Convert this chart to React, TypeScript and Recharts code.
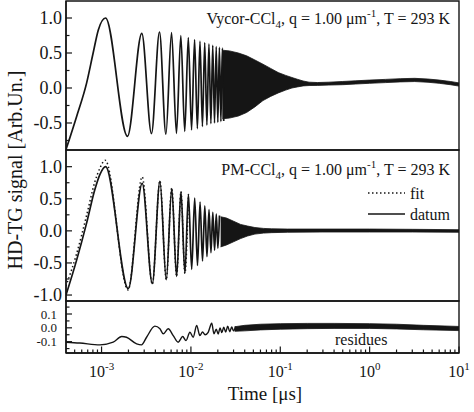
import React from 'react';
import { ComposedChart, Line, Area, XAxis, YAxis, ReferenceArea } from 'recharts';

const FONT = '"Liberation Serif", "DejaVu Serif", serif';
const INK = '#151515';
const WIDTH = 474;
const HEIGHT = 412;
const PLOT_LEFT = 66;
const PLOT_RIGHT = 459;

// shared time axis in μs (log scale)
const X_DOMAIN: [number, number] = [4e-4, 10];
const decadeTicks = [1e-3, 1e-2, 1e-1, 1, 10];
const decadeExponents = ['-3', '-2', '-1', '0', '1'];
const minorTicks = [
  5e-4, 6e-4, 7e-4, 8e-4, 9e-4,
  2e-3, 3e-3, 4e-3, 5e-3, 6e-3, 7e-3, 8e-3, 9e-3,
  2e-2, 3e-2, 4e-2, 5e-2, 6e-2, 7e-2, 8e-2, 9e-2,
  0.2, 0.3, 0.4, 0.5, 0.6, 0.7, 0.8, 0.9,
  2, 3, 4, 5, 6, 7, 8, 9,
];
const timeTicks = [...minorTicks, ...decadeTicks].sort((a, b) => a - b);

// Vycor-CCl4: resolved oscillation (extrema) then the unresolved band
const vycorTime = [
  4.0e-4, 5.25e-4, 6.8e-4, 8.05e-4, 9.2e-4, 1.11e-3, 1.95e-3, 2.82e-3, 3.62e-3, 4.45e-3,
  5.25e-3, 6.07e-3, 6.89e-3, 7.71e-3, 8.53e-3, 9.35e-3, 1.017e-2, 1.099e-2, 1.181e-2, 1.263e-2,
  1.345e-2, 1.427e-2, 1.509e-2, 1.591e-2, 1.673e-2, 1.755e-2, 1.837e-2, 1.919e-2, 2.001e-2, 2.083e-2,
  2.165e-2, 2.247e-2, 2.329e-2,
];
const vycorSignal = [
  -0.88, -0.41, 0.07, 0.5, 0.83, 1.0, -0.69, 0.78, -0.65, 0.8,
  -0.66, 0.79, -0.65, 0.75, -0.62, 0.72, -0.6, 0.69, -0.58, 0.67,
  -0.55, 0.65, -0.53, 0.63, -0.51, 0.61, -0.5, 0.59, -0.49, 0.58,
  -0.48, 0.57, -0.47,
];
const vycorBandTime = [
  0.0225, 0.027, 0.034, 0.042, 0.052, 0.064, 0.078, 0.095, 0.115, 0.135,
  0.155, 0.18, 0.21, 0.26, 0.35, 0.5, 0.7, 1.0, 1.5, 2.2,
  3.2, 4.5, 6.0, 8.0, 10,
];
const vycorBandLow = [
  -0.44, -0.43, -0.4, -0.35, -0.27, -0.18, -0.12, -0.07, -0.03, 0.0,
  0.015, 0.03, 0.035, 0.037, 0.042, 0.047, 0.057, 0.067, 0.077, 0.087,
  0.092, 0.082, 0.067, 0.047, 0.027,
];
const vycorBandHigh = [
  0.54, 0.53, 0.5, 0.46, 0.4, 0.34, 0.28, 0.22, 0.18, 0.15,
  0.125, 0.1, 0.083, 0.078, 0.083, 0.093, 0.103, 0.113, 0.123, 0.133,
  0.138, 0.128, 0.113, 0.093, 0.073,
];

// PM-CCl4: measured datum, fit and the dense band
const pmTime = [
  4.0e-4, 5.25e-4, 6.8e-4, 8.4e-4, 9.6e-4, 1.11e-3, 1.99e-3, 2.85e-3, 3.7e-3, 4.5e-3,
  5.3e-3, 6.1e-3, 6.92e-3, 7.74e-3, 8.56e-3, 9.38e-3, 1.02e-2, 1.102e-2, 1.184e-2, 1.266e-2,
  1.348e-2, 1.43e-2, 1.512e-2, 1.594e-2, 1.676e-2, 1.758e-2, 1.84e-2, 1.922e-2, 2.004e-2, 2.086e-2,
];
const pmDatum = [
  -1.0, -0.46, 0.12, 0.64, 0.88, 1.0, -0.9, 0.74, -0.82, 0.77,
  -0.76, 0.66, -0.71, 0.61, -0.66, 0.57, -0.6, 0.51, -0.54, 0.45,
  -0.47, 0.39, -0.4, 0.33, -0.34, 0.29, -0.3, 0.26, -0.27, 0.24,
];
const pmFitTime = [
  4.0e-4, 5.25e-4, 6.8e-4, 8.4e-4, 9.6e-4, 1.1e-3, 1.98e-3, 2.85e-3, 3.7e-3, 4.5e-3,
  5.3e-3, 6.1e-3, 6.92e-3, 7.74e-3, 8.56e-3, 9.38e-3,
];
const pmFit = [
  -0.86, -0.36, 0.24, 0.76, 0.98, 1.1, -0.92, 0.84, -0.83, 0.78,
  -0.76, 0.67, -0.71, 0.61, -0.66, 0.57,
];
const pmBandTime = [0.0215, 0.025, 0.03, 0.036, 0.043, 0.052, 0.065, 0.08, 0.12, 0.3, 1, 3, 10];
const pmBandLow = [-0.25, -0.22, -0.17, -0.12, -0.08, -0.05, -0.035, -0.028, -0.022, -0.018, -0.018, -0.018, -0.022];
const pmBandHigh = [0.22, 0.2, 0.15, 0.1, 0.075, 0.052, 0.038, 0.032, 0.028, 0.028, 0.028, 0.024, 0.018];

// residues of the PM-CCl4 fit
const resTime = [
  4.0e-4, 5.7e-4, 9.6e-4, 1.35e-3, 1.68e-3, 1.9e-3, 2.47e-3, 2.8e-3, 3.19e-3, 3.95e-3,
  4.5e-3, 4.9e-3, 5.57e-3, 6.34e-3, 7.2e-3, 8.09e-3, 8.81e-3, 9.75e-3, 1.06e-2, 1.16e-2,
  1.26e-2, 1.35e-2, 1.44e-2, 1.56e-2, 1.71e-2, 1.81e-2, 1.92e-2, 2.02e-2, 2.12e-2, 2.22e-2,
  2.33e-2, 2.45e-2, 2.58e-2, 2.72e-2, 2.86e-2, 3.0e-2, 3.15e-2,
];
const resValue = [
  -0.104, -0.11, -0.123, -0.104, -0.063, -0.068, -0.116, -0.123, -0.068, 0.012,
  -0.007, -0.043, -0.007, -0.056, -0.104, -0.063, -0.092, -0.032, -0.068, 0.017,
  -0.056, -0.03, -0.05, -0.032, 0.033, -0.043, -0.01, -0.045, 0.0, -0.035,
  0.005, -0.03, 0.012, -0.028, 0.006, -0.022, 0.01,
];
const resBandTime = [0.031, 0.04, 0.06, 0.1, 0.2, 0.4, 1, 2, 4, 10];
const resBandLow = [-0.025, -0.022, -0.015, -0.01, -0.006, -0.004, -0.004, -0.008, -0.014, -0.02];
const resBandHigh = [0.008, 0.018, 0.026, 0.03, 0.032, 0.032, 0.03, 0.026, 0.018, 0.01];

// y axes
const signalDomain1: [number, number] = [-0.886, 1.243];
const signalTicks1 = [-0.75, -0.5, -0.25, 0, 0.25, 0.5, 0.75, 1.0];
const signalLabels1 = [-0.5, 0, 0.5, 1.0];
const signalDomain2: [number, number] = [-1.093, 1.26];
const signalTicks2 = [-1.0, -0.75, -0.5, -0.25, 0, 0.25, 0.5, 0.75, 1.0];
const signalLabels2 = [-1.0, -0.5, 0, 0.5, 1.0];
const resDomain: [number, number] = [-0.182, 0.194];
const resTicks = [-0.15, -0.1, -0.05, 0, 0.05, 0.1, 0.15];
const resLabels = [-0.1, 0, 0.1];

type Row = { t: number; v?: number; fit?: number; band?: [number, number] };

const lineRows = (t: number[], key: 'v' | 'fit', values: number[]): Row[] =>
  t.map((time, i) => ({ t: time, [key]: values[i] }));
const bandRows = (t: number[], lo: number[], hi: number[]): Row[] =>
  t.map((time, i) => ({ t: time, band: [lo[i], hi[i]] as [number, number] }));
const byTime = (a: Row, b: Row) => a.t - b.t;

const vycorRows = [
  ...lineRows(vycorTime, 'v', vycorSignal),
  ...bandRows(vycorBandTime, vycorBandLow, vycorBandHigh),
].sort(byTime);
const pmRows = [
  ...lineRows(pmTime, 'v', pmDatum),
  ...lineRows(pmFitTime, 'fit', pmFit),
  ...bandRows(pmBandTime, pmBandLow, pmBandHigh),
].sort(byTime);
const resRows = [
  ...lineRows(resTime, 'v', resValue),
  ...bandRows(resBandTime, resBandLow, resBandHigh),
].sort(byTime);

// inward tick marks, labels only on the major values
const valueTick = (labels: number[], fontSize: number, gap: number) => (props: any) => {
  const { x, y, payload } = props;
  const major = labels.includes(payload.value);
  return (
    <g>
      <line x1={x} y1={y} x2={x + (major ? 6 : 3.5)} y2={y} stroke={INK} strokeWidth={1.2} />
      {major && (
        <text x={x - gap} y={y} dy="0.35em" textAnchor="end" fontSize={fontSize} fontFamily={FONT} fill={INK}>
          {payload.value.toFixed(1)}
        </text>
      )}
    </g>
  );
};

const timeTick = (showLabels: boolean) => (props: any) => {
  const { x, y, payload } = props;
  const i = decadeTicks.indexOf(payload.value);
  const major = i >= 0;
  return (
    <g>
      <line x1={x} y1={y} x2={x} y2={y - (major ? 6.5 : 3.5)} stroke={INK} strokeWidth={1.2} />
      {major && showLabels && (
        <text x={x} y={y + 24} textAnchor="middle" fontSize={16} fontFamily={FONT} fill={INK}>
          10
          <tspan dy={-7} fontSize={11}>
            {decadeExponents[i]}
          </tspan>
        </text>
      )}
    </g>
  );
};

interface PanelProps {
  top: number;
  height: number;
  marginTop: number;
  marginBottom: number;
  axisHeight: number;
  yDomain: [number, number];
  yTicks: number[];
  yLabels: number[];
  labelSize: number;
  labelGap: number;
  showTimeLabels?: boolean;
  data: Row[];
  children: React.ReactNode;
}

function Panel(p: PanelProps) {
  return (
    <div style={{ position: 'absolute', left: 0, top: p.top }}>
      <ComposedChart
        width={WIDTH}
        height={p.height}
        data={p.data}
        margin={{ top: p.marginTop, right: WIDTH - PLOT_RIGHT, bottom: p.marginBottom, left: 0 }}
      >
        <XAxis
          dataKey="t"
          type="number"
          scale="log"
          domain={X_DOMAIN}
          allowDataOverflow
          ticks={timeTicks}
          interval={0}
          height={p.axisHeight}
          tickSize={0}
          tickMargin={0}
          tickLine={false}
          axisLine={{ stroke: INK, strokeWidth: 1.4 }}
          tick={timeTick(!!p.showTimeLabels)}
        />
        <YAxis
          type="number"
          domain={p.yDomain}
          allowDataOverflow
          ticks={p.yTicks}
          interval={0}
          width={PLOT_LEFT}
          tickSize={0}
          tickMargin={0}
          tickLine={false}
          axisLine={{ stroke: INK, strokeWidth: 1.4 }}
          tick={valueTick(p.yLabels, p.labelSize, p.labelGap)}
        />
        <ReferenceArea
          x1={X_DOMAIN[0]}
          x2={X_DOMAIN[1]}
          y1={p.yDomain[0]}
          y2={p.yDomain[1]}
          fill="none"
          fillOpacity={0}
          stroke={INK}
          strokeWidth={1.4}
        />
        {p.children}
      </ComposedChart>
    </div>
  );
}

const band = (
  <Area
    dataKey="band"
    type="linear"
    stroke={INK}
    strokeWidth={0.8}
    fill={INK}
    fillOpacity={1}
    connectNulls
    dot={false}
    activeDot={false}
    legendType="none"
    isAnimationActive={false}
  />
);

function Title({ x, y, sample }: { x: number; y: number; sample: string }) {
  return (
    <text x={x} y={y} textAnchor="end" fontSize={16}>
      {sample}-CCl
      <tspan dy={4} fontSize={11}>4</tspan>
      <tspan dy={-4}>, q = 1.00 μm</tspan>
      <tspan dy={-7} fontSize={11}>-1</tspan>
      <tspan dy={7}>, T = 293 K</tspan>
    </text>
  );
}

export default function App() {
  return (
    <div style={{ position: 'absolute', left: 0, top: 0, width: WIDTH, height: HEIGHT, background: '#fff' }}>
      <Panel
        top={0}
        height={160}
        marginTop={1}
        marginBottom={10}
        axisHeight={0}
        yDomain={signalDomain1}
        yTicks={signalTicks1}
        yLabels={signalLabels1}
        labelSize={18}
        labelGap={4}
        data={vycorRows}
      >
        {band}
        <Line dataKey="v" type="monotone" stroke={INK} strokeWidth={1.7} dot={false} activeDot={false} connectNulls isAnimationActive={false} />
      </Panel>

      <Panel
        top={148}
        height={165}
        marginTop={2}
        marginBottom={12}
        axisHeight={0}
        yDomain={signalDomain2}
        yTicks={signalTicks2}
        yLabels={signalLabels2}
        labelSize={18}
        labelGap={4}
        data={pmRows}
      >
        {band}
        <Line dataKey="fit" type="monotone" stroke={INK} strokeWidth={1.5} strokeDasharray="1.5 2.5" dot={false} activeDot={false} connectNulls isAnimationActive={false} />
        <Line dataKey="v" type="monotone" stroke={INK} strokeWidth={1.7} dot={false} activeDot={false} connectNulls isAnimationActive={false} />
      </Panel>

      <Panel
        top={299}
        height={113}
        marginTop={2}
        marginBottom={0}
        axisHeight={59}
        yDomain={resDomain}
        yTicks={resTicks}
        yLabels={resLabels}
        labelSize={13}
        labelGap={9}
        showTimeLabels
        data={resRows}
      >
        {band}
        <Line dataKey="v" type="monotone" stroke={INK} strokeWidth={1.4} dot={false} activeDot={false} connectNulls isAnimationActive={false} />
      </Panel>

      <svg
        width={WIDTH}
        height={HEIGHT}
        style={{ position: 'absolute', left: 0, top: 0, pointerEvents: 'none' }}
        fontFamily={FONT}
        fill={INK}
      >
        <text transform="translate(22,170) rotate(-90)" textAnchor="middle" fontSize={20}>
          HD-TG signal [Arb.Un.]
        </text>
        <Title x={450} y={24} sample="Vycor" />
        <Title x={450} y={175} sample="PM" />

        <line x1={368} x2={405} y1={193} y2={193} stroke={INK} strokeWidth={1.5} strokeDasharray="1.5 2.5" />
        <text x={410} y={199} fontSize={16}>fit</text>
        <line x1={368} x2={405} y1={214} y2={214} stroke={INK} strokeWidth={1.5} />
        <text x={410} y={220} fontSize={16}>datum</text>

        <text x={335} y={345} fontSize={16}>residues</text>
        <text x={265} y={400} textAnchor="middle" fontSize={19}>Time [μs]</text>
      </svg>
    </div>
  );
}
